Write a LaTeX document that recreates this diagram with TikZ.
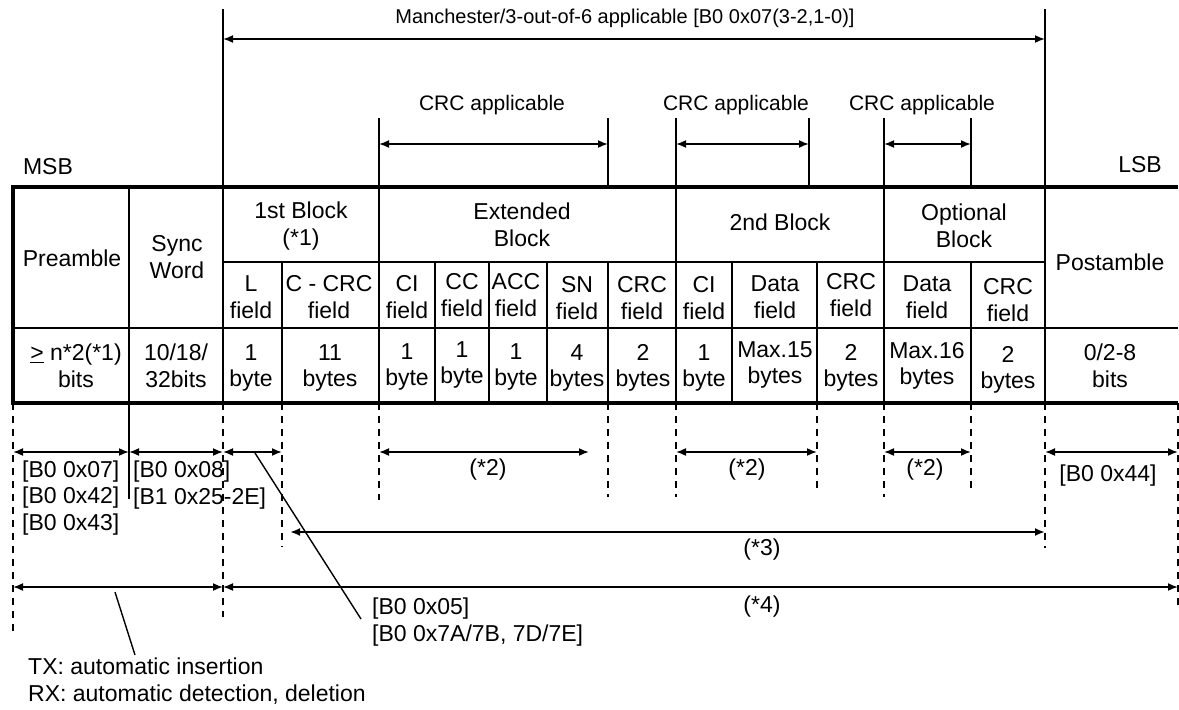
\documentclass[tikz,border=0pt]{standalone}
\usepackage{fontspec}
\setmainfont{Liberation Sans}
\usetikzlibrary{arrows.meta}

\tikzset{
    cell/.style={align=center, inner sep=0pt, font=\fontsize{23}{26.5}\selectfont},
    note/.style={align=left, inner sep=0pt, anchor=west, font=\fontsize{23}{26.5}\selectfont},
    small/.style={align=center, inner sep=0pt, font=\fontsize{21}{24}\selectfont},
    frame/.style={line width=3.4pt, line join=miter},
    major/.style={line width=2.8pt},
    rowline/.style={line width=2.2pt},
    grid/.style={line width=1.4pt},
    guide/.style={line width=1.4pt, dash pattern=on 7pt off 6pt},
    dim/.style={line width=1.7pt, {Latex[length=10pt,width=8pt]}-{Latex[length=10pt,width=8pt]}},
}

\begin{document}
\begin{tikzpicture}[x=1pt, y=-1pt]
    \useasboundingbox (0,0) rectangle (1179,710);

    % columns and rows
    \foreach \n/\x in {0/13,1/129,2/223,3/282,4/379,5/435,6/489,7/547,8/608,
                       9/676,10/732,11/817,12/884,13/971,14/1045,15/1178}
        \coordinate (c\n) at (\x,0);
    \coordinate (crcEnd) at (809,0);
    \coordinate (extEnd) at (589,0);
    \coordinate (mtxStart) at (290,0);

    \coordinate (hi) at (0,9);
    \coordinate (arrM) at (0,39);
    \coordinate (crcTop) at (0,118);
    \coordinate (arrC) at (0,144);
    \coordinate (top) at (0,187);
    \coordinate (mid) at (0,262);
    \coordinate (fld) at (0,328);
    \coordinate (bot) at (0,403);
    \coordinate (arr1) at (0,452);
    \coordinate (arr3) at (0,532);
    \coordinate (arr4) at (0,587);

    % table
    \draw[frame] (c15|-top) -- (c0|-top) -- (c0|-bot) -- (c15|-bot);
    \draw[rowline] (c0|-fld) -- (c15|-fld);
    \draw[grid] (c2|-mid) -- (c14|-mid);
    \foreach \n in {1,2,4,9,12,14}
        \draw[major] (c\n|-top) -- (c\n|-bot);
    \foreach \n in {3,5,6,7,8,10,11,13}
        \draw[grid] (c\n|-mid) -- (c\n|-bot);

    \draw (72,258) node[cell] (pre) {Preamble};
    \draw (177,257) node[cell] (sync) {Sync\\Word};
    \draw (301,226) node[cell] (blk1) {1st Block\\(*1)};
    \draw (522,225) node[cell] (ext) {Extended\\Block};
    \draw (780,222) node[cell] (blk2) {2nd Block};
    \draw (964,226) node[cell] (opt) {Optional\\Block};
    \draw (1110,262) node[cell] (post) {Postamble};

    \draw (251,297) node[cell] (fL) {L\\field};
    \draw (329,297) node[cell] (fCcrc) {C - CRC\\field};
    \draw (407,297) node[cell] (fCI) {CI\\field};
    \draw (462,295) node[cell] (fCC) {CC\\field};
    \draw (516,295) node[cell] (fACC) {ACC\\field};
    \draw (577,298) node[cell] (fSN) {SN\\field};
    \draw (642,298) node[cell] (fCRC) {CRC\\field};
    \draw (704,298) node[cell] (fCI2) {CI\\field};
    \draw (775,297) node[cell] (fData) {Data\\field};
    \draw (851,295) node[cell] (fCRC2) {CRC\\field};
    \draw (927,297) node[cell] (fData3) {Data\\field};
    \draw (1008,300) node[cell] (fCRC3) {CRC\\field};

    \draw (76,366) node[cell] (vPre) {\underline{>} n*2(*1)\\bits};
    \draw (176,366) node[cell] (vSync) {10/18/\\32bits};
    \draw (251,368) node[cell] (vL) {1\\byte};
    \draw (330,368) node[cell] (vCcrc) {11\\bytes};
    \draw (407,367) node[cell] (vCI) {1\\byte};
    \draw (462,365) node[cell] (vCC) {1\\byte};
    \draw (516,367) node[cell] (vACC) {1\\byte};
    \draw (577,368) node[cell] (vSN) {4\\bytes};
    \draw (643,368) node[cell] (vCRC) {2\\bytes};
    \draw (704,368) node[cell] (vCI2) {1\\byte};
    \draw (775,365) node[cell] (vData) {Max.15\\bytes};
    \draw (851,368) node[cell] (vCRC2) {2\\bytes};
    \draw (927,366) node[cell] (vData3) {Max.16\\bytes};
    \draw (1008,370) node[cell] (vCRC3) {2\\bytes};
    \draw (1110,366) node[cell] (vPost) {0/2-8\\bits};

    % ranges above the table
    \draw (48,167) node[cell] (msb) {MSB};
    \draw (1140,165) node[cell] (lsb) {LSB};

    \draw[grid] (c2|-hi) -- (c2|-top);
    \draw[grid] (c14|-hi) -- (c14|-top);
    \draw[dim] (c2|-arrM) -- (c14|-arrM);
    \draw (625,18) node[small, font=\fontsize{20}{23}\selectfont] (manch)
        {Manchester/3-out-of-6 applicable [B0 0x07(3-2,1-0)]};

    \foreach \a/\b in {c4/c8, c9/crcEnd, c12/c13} {
        \draw[grid] (\a|-crcTop) -- (\a|-top);
        \draw[grid] (\b|-crcTop) -- (\b|-top);
        \draw[dim] (\a|-arrC) -- (\b|-arrC);
    }
    \draw (492,105) node[small] (crc1) {CRC applicable};
    \draw (736,105) node[small] (crc2) {CRC applicable};
    \draw (922,105) node[small] (crc3) {CRC applicable};

    % ranges below the table
    \foreach \n/\l in {0/230,2/214,3/144,4/97,8/94,9/94,11/89,12/94,13/89,14/145,15/204}
        \draw[guide] (c\n|-bot) -- ++(0,\l);
    \draw[grid] (c1|-bot) -- ++(0,96);

    \foreach \a/\b in {c0/c1, c1/c2, c2/c3, c4/extEnd, c9/c11, c12/c13, c14/c15}
        \draw[dim] (\a|-arr1) -- (\b|-arr1);
    \draw[dim, line width=2pt] (mtxStart|-arr3) -- (c14|-arr3);
    \draw[dim] (c0|-arr4) -- (c2|-arr4);
    \draw[dim] (c2|-arr4) -- (c15|-arr4);

    \draw (22,498) node[note] (b07) {[B0 0x07]\\{}[B0 0x42]\\{}[B0 0x43]};
    \draw (133,485) node[note] (b08) {[B0 0x08]\\{}[B1 0x25-2E]};
    \draw (488,470) node[cell] (star2a) {(*2)};
    \draw (747,470) node[cell] (star2b) {(*2)};
    \draw (925,470) node[cell] (star2c) {(*2)};
    \draw (1108,476) node[cell] (b44) {[B0 0x44]};
    \draw (762,550) node[cell] (star3) {(*3)};
    \draw (762,607) node[cell] (star4) {(*4)};

    % leaders
    \draw (372,622) node[note] (b05) {[B0 0x05]\\{}[B0 0x7A/7B, 7D/7E]};
    \draw (28,681) node[note] (txrx) {TX: automatic insertion\\RX: automatic detection, deletion};
    \coordinate (lead1) at (255,453);
    \coordinate (lead1e) at (361,619);
    \coordinate (lead2) at (115,592);
    \coordinate (lead2e) at (135,655);
    \draw[grid] (lead1) -- (lead1e);
    \draw[grid] (lead2) -- (lead2e);
\end{tikzpicture}
\end{document}
